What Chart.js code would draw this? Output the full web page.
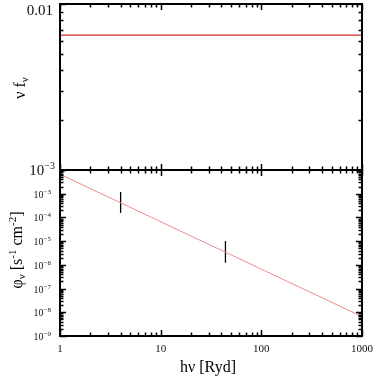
<!DOCTYPE html>
<html><head><meta charset="utf-8">
<script src="https://cdn.jsdelivr.net/npm/chart.js@4.4.1/dist/chart.umd.min.js"></script>
<style>html,body{margin:0;padding:0;background:#fff;overflow:hidden}canvas{display:block}</style>
</head><body>
<canvas id="c" width="384" height="379"></canvas>
<script>
// ---- data ----
const energyRyd = [1, 1000];              // x extent of the model curves
const nuFnu = [0.0065, 0.0065];           // top panel: nu f_nu (flat)
const photonFlux = [6.6e-3, 6.6e-9];      // bottom panel: phi_nu
const errX = [4.0, 44];                   // error bar positions (Ryd)
const errLow = [1.55e-4, 1.23e-6];
const errHigh = [1.18e-3, 1.0e-5];
const xTickValues = [1, 10, 100, 1000];
const xTickLabels = ['1', '10', '100', '1000'];
const botTickExp = [-9, -8, -7, -6, -5, -4, -3];
const topTickValues = [1e-3, 1e-2];
const topTickLabels = [['10', '-3'], ['0.01', '']];

const FONT = '"Liberation Serif", "Times New Roman", serif';

function rich(ctx, segs, x, y, align) {
  let w = 0;
  segs.forEach(s => { ctx.font = s.size + 'px ' + FONT; s.w = ctx.measureText(s.t).width; w += s.w; });
  let sx = align === 'right' ? x - w : align === 'center' ? x - w / 2 : x;
  ctx.textAlign = 'left'; ctx.textBaseline = 'alphabetic';
  segs.forEach(s => { ctx.font = s.size + 'px ' + FONT; ctx.fillText(s.t, sx, y + (s.dy || 0)); sx += s.w; });
}
function logTicks(min, max) {
  const out = [];
  for (let e = Math.floor(Math.log10(min)) - 1; e <= Math.ceil(Math.log10(max)); e++) {
    for (let m = 1; m <= 9; m++) {
      const v = m * Math.pow(10, e);
      if (v >= min * 0.999 && v <= max * 1.001) out.push({ v, major: m === 1 });
    }
  }
  return out;
}

const framePlugin = {
  id: 'frame',
  afterDraw(chart) {
    const ctx = chart.ctx;
    const xs = chart.scales.x, yT = chart.scales.yTop, yB = chart.scales.yBot;
    const L = xs.left, R = xs.right;
    ctx.save();
    ctx.strokeStyle = '#000';
    const panels = [yT, yB];
    const xt = logTicks(xs.min, xs.max);
    ctx.lineWidth = 1.5;
    panels.forEach(s => {
      const T = s.top, B = s.bottom;
      ctx.beginPath();
      xt.forEach(t => {
        const px = Math.round(xs.getPixelForValue(t.v)) + 0.5;
        const len = t.major ? 6 : 3.5;
        ctx.moveTo(px, T); ctx.lineTo(px, T + len);
        ctx.moveTo(px, B); ctx.lineTo(px, B - len);
      });
      logTicks(s.min, s.max).forEach(t => {
        const py = Math.round(s.getPixelForValue(t.v)) + 0.5;
        const len = t.major ? 6 : 3.5;
        ctx.moveTo(L, py); ctx.lineTo(L + len, py);
        ctx.moveTo(R, py); ctx.lineTo(R - len, py);
      });
      ctx.stroke();
    });
    ctx.lineWidth = 2;
    panels.forEach(s => { ctx.strokeRect(L, Math.round(s.top), R - L, Math.round(s.bottom) - Math.round(s.top)); });

    // tick labels
    ctx.fillStyle = '#111';
    xTickValues.forEach((v, i) => {
      rich(ctx, [{ t: xTickLabels[i], size: 11 }], xs.getPixelForValue(v), 352, 'center');
    });
    botTickExp.forEach(e => {
      const py = yB.getPixelForValue(Math.pow(10, e));
      rich(ctx, [{ t: '10', size: 10 }, { t: String(e).replace('-', '\u2212'), size: 7, dy: -4 }], 51, py + 4, 'right');
    });
    topTickValues.forEach((v, i) => {
      let py = yT.getPixelForValue(v);
      if (i === 1) py = 9.5;
      const segs = [{ t: topTickLabels[i][0], size: 15 }];
      if (topTickLabels[i][1]) segs.push({ t: topTickLabels[i][1].replace('-', '\u2212'), size: 10, dy: -6 });
      rich(ctx, segs, i === 1 ? 53 : 55, py + 5, 'right');
    });

    // axis titles
    ctx.fillStyle = '#000';
    rich(ctx, [{ t: 'h\u03bd [Ryd]', size: 16 }], 208, 372, 'center');
    ctx.save();
    ctx.translate(20, 88); ctx.rotate(-Math.PI / 2);
    rich(ctx, [{ t: '\u03bd f', size: 16 }, { t: '\u03bd', size: 11, dy: 3 }], 0, 5, 'center');
    ctx.restore();
    ctx.save();
    ctx.translate(17, 250); ctx.rotate(-Math.PI / 2);
    rich(ctx, [
      { t: '\u03c6', size: 16 }, { t: '\u03bd', size: 11, dy: 3 },
      { t: ' [s', size: 16 }, { t: '-1', size: 11, dy: -6 },
      { t: ' cm', size: 16 }, { t: '-2', size: 11, dy: -6 }, { t: ']', size: 16 }
    ], 0, 5, 'center');
    ctx.restore();
    ctx.restore();
  }
};

const pts = (xa, ya) => xa.map((x, i) => ({ x, y: ya[i] }));
const datasets = [
  { data: pts(energyRyd, nuFnu), yAxisID: 'yTop', borderColor: '#d42828', borderWidth: 1.2, pointRadius: 0 },
  { data: pts(energyRyd, photonFlux), yAxisID: 'yBot', borderColor: '#f08c8c', borderWidth: 1, pointRadius: 0 }
];
errX.forEach((x, i) => {
  datasets.push({ data: [{ x, y: errLow[i] }, { x, y: errHigh[i] }], yAxisID: 'yBot', borderColor: '#000', borderWidth: 1.3, pointRadius: 0 });
});

const hidden = { grid: { display: false }, ticks: { display: false }, border: { display: false } };
new Chart(document.getElementById('c'), {
  type: 'line',
  data: { datasets },
  options: {
    responsive: false, animation: false, devicePixelRatio: 1,
    layout: { padding: { top: 4, right: 22, left: 0, bottom: 0 } },
    plugins: { legend: { display: false }, tooltip: { enabled: false } },
    scales: {
      x: Object.assign({ type: 'logarithmic', min: 1, max: 1000, position: 'bottom', afterFit: s => { s.height = 43; } }, hidden),
      yBot: Object.assign({ type: 'logarithmic', min: 1e-9, max: 1e-2, position: 'left', stack: 'p', stackWeight: 1, afterFit: s => { s.width = 60; } }, hidden),
      yTop: Object.assign({ type: 'logarithmic', min: 1e-3, max: 1e-2, position: 'left', stack: 'p', stackWeight: 1, afterFit: s => { s.width = 60; } }, hidden)
    }
  },
  plugins: [framePlugin]
});
</script>
</body></html>
